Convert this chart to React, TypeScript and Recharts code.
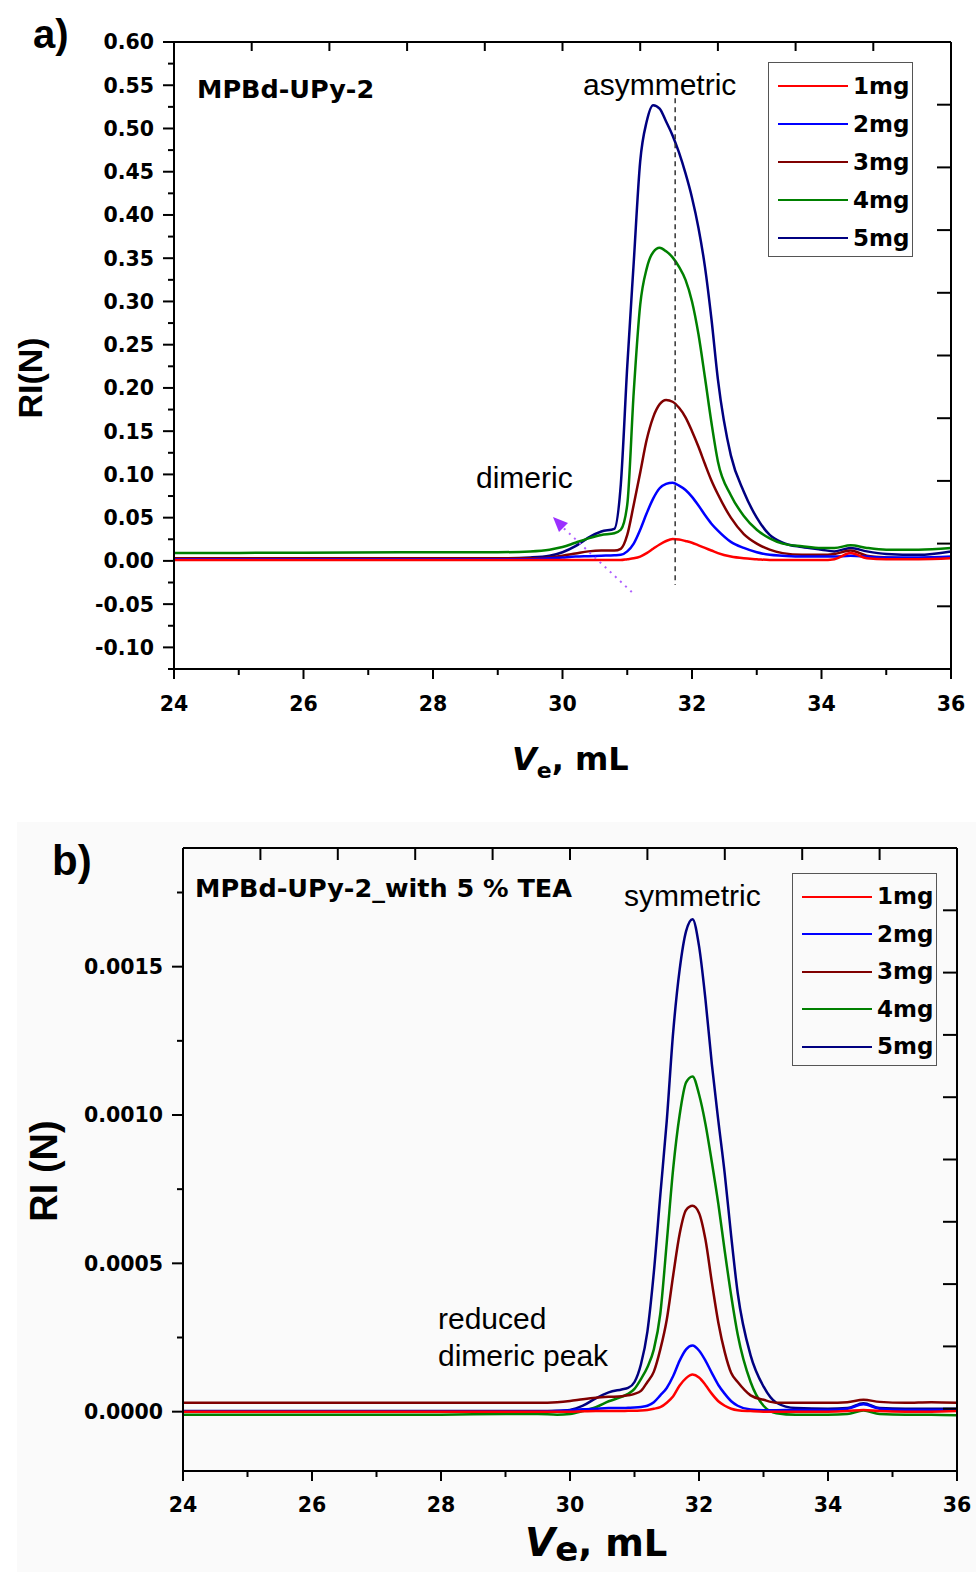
import { LineChart, Line, XAxis, YAxis, ReferenceLine, ReferenceDot, Legend } from 'recharts'

// ---- panel a: MPBd-UPy-2 ----
const xsA = [24, 26, 28, 29, 29.5, 29.8, 30, 30.2, 30.4, 30.6, 30.8, 30.9, 31.0, 31.1, 31.2, 31.3, 31.4, 31.5, 31.6, 31.7, 31.8, 31.9, 32.0, 32.1, 32.2, 32.3, 32.4, 32.6, 32.8, 33.0, 33.2, 33.4, 33.7, 34.0, 34.2, 34.45, 34.7, 35.0, 35.5, 36]
const a1mg = [0.001, 0.001, 0.001, 0.001, 0.001, 0.001, 0.001, 0.001, 0.001, 0.001, 0.001, 0.001, 0.002, 0.003, 0.005, 0.009, 0.014, 0.019, 0.023, 0.0252, 0.0247, 0.023, 0.021, 0.018, 0.015, 0.012, 0.009, 0.005, 0.003, 0.002, 0.001, 0.001, 0.001, 0.001, 0.002, 0.009, 0.003, 0.002, 0.002, 0.003]
const a2mg = [0.002, 0.002, 0.002, 0.002, 0.002, 0.003, 0.004, 0.005, 0.0055, 0.006, 0.0065, 0.007, 0.011, 0.02, 0.036, 0.055, 0.072, 0.084, 0.089, 0.0905, 0.087, 0.082, 0.074, 0.064, 0.053, 0.043, 0.035, 0.022, 0.015, 0.01, 0.007, 0.006, 0.005, 0.005, 0.005, 0.006, 0.005, 0.004, 0.004, 0.005]
const a3mg = [0.003, 0.003, 0.003, 0.003, 0.003, 0.004, 0.006, 0.0085, 0.011, 0.012, 0.012, 0.014, 0.03, 0.065, 0.102, 0.14, 0.166, 0.181, 0.186, 0.184, 0.177, 0.166, 0.15, 0.132, 0.112, 0.093, 0.077, 0.05, 0.031, 0.02, 0.013, 0.009, 0.007, 0.007, 0.008, 0.012, 0.006, 0.004, 0.003, 0.004]
const a4mg = [0.009, 0.0095, 0.01, 0.01, 0.011, 0.013, 0.016, 0.021, 0.026, 0.03, 0.032, 0.036, 0.065, 0.195, 0.296, 0.338, 0.357, 0.362, 0.358, 0.351, 0.34, 0.325, 0.3, 0.262, 0.212, 0.16, 0.115, 0.076, 0.052, 0.036, 0.026, 0.02, 0.017, 0.015, 0.015, 0.018, 0.015, 0.013, 0.013, 0.015]
const a5mg = [0.002, 0.002, 0.003, 0.003, 0.004, 0.006, 0.01, 0.017, 0.027, 0.034, 0.037, 0.088, 0.225, 0.345, 0.462, 0.508, 0.527, 0.523, 0.508, 0.492, 0.472, 0.448, 0.42, 0.385, 0.34, 0.28, 0.21, 0.122, 0.08, 0.05, 0.03, 0.021, 0.016, 0.013, 0.011, 0.015, 0.011, 0.008, 0.007, 0.011]

// ---- panel b: MPBd-UPy-2 with 5 % TEA ----
const xsB = [24, 26, 28, 29, 29.5, 29.8, 30, 30.2, 30.4, 30.6, 30.8, 30.9, 31.0, 31.1, 31.2, 31.3, 31.4, 31.5, 31.6, 31.7, 31.8, 31.9, 32.0, 32.1, 32.2, 32.3, 32.4, 32.5, 32.6, 32.8, 33.0, 33.2, 33.5, 34.0, 34.3, 34.55, 34.8, 35.2, 35.6, 36]
const b1mg = [0, 0, 0, 0, 0, 0, 0, 0.000001, 0.000002, 0.000002, 0.000002, 0.000003, 0.000003, 0.000004, 0.000006, 0.00001, 0.000015, 0.00003, 0.000052, 0.000088, 0.000113, 0.000125, 0.000115, 0.00009, 0.00006, 0.000035, 0.00002, 0.00001, 0.000005, 0.000002, 0, 0, 0, 0, 0.000002, 0.000006, 0.000002, 0, 0, 0.000002]
const b2mg = [0, 0, 0, 0, 0, 0.000002, 0.000005, 0.000008, 0.00001, 0.000012, 0.000012, 0.000013, 0.000014, 0.000016, 0.00002, 0.000032, 0.000055, 0.00008, 0.00012, 0.000172, 0.00021, 0.000223, 0.000206, 0.000172, 0.00013, 0.00009, 0.00006, 0.000035, 0.00002, 0.000007, 0.000005, 0.000005, 0.000006, 0.000006, 0.00001, 0.000025, 0.00001, 0.000006, 0.000006, 0.000006]
const b3mg = [0.00003, 0.00003, 0.00003, 0.00003, 0.00003, 0.000032, 0.000036, 0.000042, 0.000047, 0.00005, 0.000052, 0.000055, 0.00006, 0.00007, 0.0001, 0.000135, 0.00021, 0.00031, 0.00046, 0.0006, 0.00068, 0.000694, 0.00067, 0.00058, 0.000435, 0.0003, 0.0002, 0.00013, 0.0001, 0.000055, 0.00004, 0.00003, 0.00003, 0.00003, 0.000032, 0.00004, 0.000033, 0.00003, 0.000032, 0.00003]
const b4mg = [-0.00001, -0.00001, -0.00001, -0.000008, -0.000008, -0.00001, -0.000008, 0.000002, 0.000015, 0.000035, 0.00005, 0.00006, 0.000077, 0.00011, 0.00015, 0.00021, 0.00033, 0.00057, 0.00082, 0.001, 0.00111, 0.00113, 0.00107, 0.00097, 0.00084, 0.0007, 0.00054, 0.00039, 0.00026, 0.0001, 0.00002, -0.000005, -0.00001, -0.00001, -0.000008, 0.000004, -0.000008, -0.00001, -0.00001, -0.000012]
const b5mg = [0.000002, 0.000002, 0.000002, 0.000002, 0.000002, 0.000003, 0.000006, 0.00002, 0.000045, 0.000065, 0.000075, 0.00008, 0.0001, 0.00016, 0.00027, 0.00047, 0.00073, 0.00098, 0.00128, 0.00149, 0.00162, 0.00166, 0.00157, 0.00139, 0.00117, 0.00098, 0.0008, 0.00059, 0.0004, 0.00019, 0.000085, 0.00003, 0.000012, 0.00001, 0.000012, 0.000028, 0.000012, 0.00001, 0.00001, 0.00001]

const seriesNames = ['1mg', '2mg', '3mg', '4mg', '5mg']
const seriesColors = ['#ff0000', '#0000ff', '#800000', '#008000', '#000080']
const seriesKeys = ['m1', 'm2', 'm3', 'm4', 'm5']

// axis ticks
const xMajor = [24, 26, 28, 30, 32, 34, 36]
const xMinor = [25, 27, 29, 31, 33, 35]
const yMajorA = [-0.1, -0.05, 0, 0.05, 0.1, 0.15, 0.2, 0.25, 0.3, 0.35, 0.4, 0.45, 0.5, 0.55, 0.6]
const yMinorA = [-0.125, -0.075, -0.025, 0.025, 0.075, 0.125, 0.175, 0.225, 0.275, 0.325, 0.375, 0.425, 0.475, 0.525, 0.575]
const yMajorB = [0, 0.0005, 0.001, 0.0015]
const yMinorB = [0.00025, 0.00075, 0.00125, 0.00175]
// the top and right frame axes carry their own 0..10 scale
const frameTicks = [1, 2, 3, 4, 5, 6, 7, 8, 9]

const rowsA = xsA.map((v, i) => ({ v, m1: a1mg[i], m2: a2mg[i], m3: a3mg[i], m4: a4mg[i], m5: a5mg[i] }))
const rowsB = xsB.map((v, i) => ({ v, m1: b1mg[i], m2: b2mg[i], m3: b3mg[i], m4: b4mg[i], m5: b5mg[i] }))

const tickFont = { fontFamily: '"DejaVu Sans", sans-serif', fontWeight: 700, fontSize: 20.5, fill: '#000' }
const boldFont = { fontFamily: '"DejaVu Sans", sans-serif', fontWeight: 700 }
const plainFont = { fontFamily: '"Liberation Sans", Arial, sans-serif' }
const axisStroke = { stroke: '#000', strokeWidth: 2 }

const isIn = (list: number[], v: number) => list.some((m) => Math.abs(m - v) < 1e-9)

function LeftTick(props: any) {
  const { x, y, payload, majors, fmt } = props
  const major = isIn(majors, payload.value)
  return (
    <g>
      <line x1={x - (major ? 11 : 6)} x2={x} y1={y} y2={y} stroke="#000" strokeWidth={2} />
      {major && (
        <text x={x - 20} y={y} dy="0.36em" textAnchor="end" style={tickFont}>
          {fmt(payload.value)}
        </text>
      )}
    </g>
  )
}

function BottomTick(props: any) {
  const { x, y, payload, labelDy } = props
  const major = isIn(xMajor, payload.value)
  return (
    <g>
      <line x1={x} x2={x} y1={y} y2={y + (major ? 10 : 6)} stroke="#000" strokeWidth={2} />
      {major && (
        <text x={x} y={y + labelDy} textAnchor="middle" style={tickFont}>
          {payload.value}
        </text>
      )}
    </g>
  )
}

function TopTick(props: any) {
  const { x, y, len } = props
  return <line x1={x} x2={x} y1={y} y2={y + len} stroke="#000" strokeWidth={2} />
}

function RightTick(props: any) {
  const { x, y } = props
  return <line x1={x - 14} x2={x} y1={y} y2={y} stroke="#000" strokeWidth={2} />
}

function MgLegend({ payload, rowH }: any) {
  const items = [...(payload || [])].sort((p: any, q: any) => String(p.value).localeCompare(String(q.value)))
  return (
    <div style={{ width: 145, height: rowH * 5 + 5, boxSizing: 'border-box', border: '1.5px solid #555', paddingTop: 4 }}>
      {items.map((it: any) => (
        <div key={it.value} style={{ height: rowH, display: 'flex', alignItems: 'center' }}>
          <span style={{ display: 'inline-block', width: 70, marginLeft: 9, borderTop: `2.5px solid ${it.color}` }} />
          <span style={{ marginLeft: 5, fontFamily: '"DejaVu Sans", sans-serif', fontWeight: 700, fontSize: 23, color: '#000', lineHeight: 1 }}>
            {it.value}
          </span>
        </div>
      ))}
    </div>
  )
}

function ArrowHead(props: any) {
  const { cx, cy } = props
  // tip at (cx, cy), pointing up-left along the dotted arrow
  return <polygon points={`${cx},${cy} ${cx + 6},${cy + 15} ${cx + 15},${cy + 6}`} fill="#9b30ff" />
}

interface PanelProps {
  rows: any[]
  height: number
  margin: { top: number; right: number; bottom: number; left: number }
  yDomain: [number, number]
  yMajor: number[]
  yMinor: number[]
  yFmt: (v: number) => string
  xLabelDy: number
  topLen: number
  legendTop: number
  legendLeft: number
  rowH: number
  children?: any
}

function Panel(p: PanelProps) {
  const yTicks = [...p.yMajor, ...p.yMinor].sort((a, b) => a - b)
  const xTicks = [...xMajor, ...xMinor].sort((a, b) => a - b)
  return (
    <LineChart width={976} height={p.height} data={p.rows} margin={p.margin}>
      <XAxis
        xAxisId="main"
        dataKey="v"
        type="number"
        domain={[24, 36]}
        ticks={xTicks}
        interval={0}
        height={60}
        tickSize={0}
        tickMargin={0}
        tickLine={false}
        axisLine={axisStroke}
        tick={(t: any) => <BottomTick {...t} labelDy={p.xLabelDy} />}
        allowDataOverflow
      />
      <XAxis
        xAxisId="top"
        orientation="top"
        dataKey="v"
        type="number"
        domain={[0, 10]}
        ticks={frameTicks}
        interval={0}
        height={2}
        tickSize={0}
        tickMargin={0}
        tickLine={false}
        axisLine={axisStroke}
        tick={(t: any) => <TopTick {...t} len={p.topLen} />}
        allowDataOverflow
      />
      <YAxis
        yAxisId="main"
        type="number"
        domain={p.yDomain}
        ticks={yTicks}
        interval={0}
        width={100}
        tickSize={0}
        tickMargin={0}
        tickLine={false}
        axisLine={axisStroke}
        tick={(t: any) => <LeftTick {...t} majors={p.yMajor} fmt={p.yFmt} />}
        allowDataOverflow
      />
      <YAxis
        yAxisId="right"
        orientation="right"
        type="number"
        domain={[0, 10]}
        ticks={frameTicks}
        interval={0}
        width={2}
        tickSize={0}
        tickMargin={0}
        tickLine={false}
        axisLine={axisStroke}
        tick={(t: any) => <RightTick {...t} />}
        allowDataOverflow
      />
      {[4, 3, 2, 1, 0].map((i) => (
        <Line
          key={seriesKeys[i]}
          xAxisId="main"
          yAxisId="main"
          type="monotone"
          dataKey={seriesKeys[i]}
          name={seriesNames[i]}
          stroke={seriesColors[i]}
          strokeWidth={2.5}
          dot={false}
          activeDot={false}
          isAnimationActive={false}
        />
      ))}
      {p.children}
      <Legend
        layout="vertical"
        align="center"
        verticalAlign="middle"
        wrapperStyle={{ left: p.legendLeft, top: p.legendTop, width: 145, height: p.rowH * 5 + 5 }}
        content={(lp: any) => <MgLegend payload={lp.payload} rowH={p.rowH} />}
      />
    </LineChart>
  )
}

export default function App() {
  return (
    <div style={{ position: 'absolute', left: 0, top: 0, width: 976, height: 1572, background: '#fff', overflow: 'hidden' }}>
      <div style={{ position: 'absolute', left: 17, top: 822, width: 959, height: 750, background: '#fafafa' }} />
      <div style={{ position: 'absolute', left: 0, top: 0 }}>
        <Panel
          rows={rowsA}
          height={790}
          margin={{ top: 40, right: 23, bottom: 61, left: 74 }}
          yDomain={[-0.125, 0.6]}
          yMajor={yMajorA}
          yMinor={yMinorA}
          yFmt={(v) => v.toFixed(2)}
          xLabelDy={42}
          topLen={9}
          legendLeft={768}
          legendTop={62}
          rowH={38}
        >
          <ReferenceLine
            xAxisId="main"
            yAxisId="main"
            segment={[{ x: 31.74, y: 0.535 }, { x: 31.74, y: -0.028 }]}
            stroke="#333"
            strokeWidth={1.5}
            strokeDasharray="5 4"
          />
          <ReferenceLine
            xAxisId="main"
            yAxisId="main"
            segment={[{ x: 31.07, y: -0.036 }, { x: 29.93, y: 0.044 }]}
            stroke="#b060ff"
            strokeWidth={2}
            strokeDasharray="2 5"
          />
          <ReferenceDot xAxisId="main" yAxisId="main" x={29.853} y={0.0509} shape={(s: any) => <ArrowHead {...s} />} />
        </Panel>
      </div>
      <div style={{ position: 'absolute', left: 0, top: 790 }}>
        <Panel
          rows={rowsB}
          height={782}
          margin={{ top: 56, right: 17, bottom: 41, left: 83 }}
          yDomain={[-0.0002, 0.0019]}
          yMajor={yMajorB}
          yMinor={yMinorB}
          yFmt={(v) => v.toFixed(4)}
          xLabelDy={41}
          topLen={12}
          legendLeft={792}
          legendTop={83}
          rowH={37.5}
        />
      </div>
      <svg width={976} height={1572} style={{ position: 'absolute', left: 0, top: 0, pointerEvents: 'none' }}>
        {/* panel a */}
        <text x={33} y={48} style={{ ...plainFont, fontWeight: 700, fontSize: 40 }}>a)</text>
        <text x={197} y={98} style={{ ...boldFont, fontSize: 25.5 }}>MPBd-UPy-2</text>
        <text x={583} y={95} style={{ ...plainFont, fontSize: 30 }}>asymmetric</text>
        <text x={476} y={488} style={{ ...plainFont, fontSize: 30 }}>dimeric</text>
        <text transform="translate(42,378) rotate(-90)" textAnchor="middle" style={{ ...plainFont, fontWeight: 700, fontSize: 34 }}>RI(N)</text>
        <text x={512} y={770} style={{ ...boldFont, fontSize: 32 }}>
          <tspan fontStyle="italic">V</tspan>
          <tspan fontSize={22} dy={8}>e</tspan>
          <tspan dy={-8}>, mL</tspan>
        </text>
        {/* panel b */}
        <text x={52} y={875} style={{ ...plainFont, fontWeight: 700, fontSize: 42 }}>b)</text>
        <text x={195} y={897} style={{ ...boldFont, fontSize: 25.5 }}>MPBd-UPy-2_with 5 % TEA</text>
        <text x={624} y={906} style={{ ...plainFont, fontSize: 30 }}>symmetric</text>
        <text x={438} y={1329} style={{ ...plainFont, fontSize: 30 }}>reduced</text>
        <text x={438} y={1366} style={{ ...plainFont, fontSize: 30 }}>dimeric peak</text>
        <text transform="translate(57,1171) rotate(-90)" textAnchor="middle" style={{ ...plainFont, fontWeight: 700, fontSize: 38 }}>RI (N)</text>
        <text x={525} y={1556} style={{ ...boldFont, fontSize: 37 }}>
          <tspan fontStyle="italic" fontSize={39}>V</tspan>
          <tspan fontSize={34} dy={5}>e</tspan>
          <tspan dy={-5}>, mL</tspan>
        </text>
      </svg>
    </div>
  )
}
